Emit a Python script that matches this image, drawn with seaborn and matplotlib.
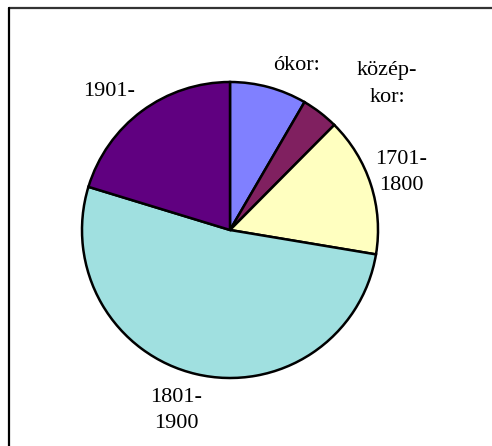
import matplotlib
matplotlib.use("Agg")
import matplotlib.pyplot as plt
from matplotlib.lines import Line2D
import seaborn as sns

# shares of the pie, clockwise from 12 o'clock
labels = ["ókor:", "közép-\nkor:", "1701-\n1800", "1801-\n1900", "1901-"]
shares = [8.4, 4.05, 15.2, 52.1, 20.3]
colors = ["#8080FF", "#802060", "#FFFFC0", "#A0E0E0", "#600080"]

sns.set_theme(style="white")
plt.rcParams["font.family"] = ["Liberation Serif", "DejaVu Serif"]

W, H = 492, 446
fig = plt.figure(figsize=(W / 100, H / 100), dpi=100)

# pie centre at (230, 230) px, radius 148 px
cx, cy, r = 230, 230, 148
ax = fig.add_axes([(cx - r) / W, (H - cy - r) / H, 2 * r / W, 2 * r / H])
ax.pie(shares, colors=colors, startangle=90, counterclock=False,
       wedgeprops=dict(edgecolor="black", linewidth=1.8))
ax.set_xlim(-1, 1)
ax.set_ylim(-1, 1)
ax.set_aspect("equal")
ax.axis("off")

# label positions in pixels (centre of text)
label_px = [(296, 65), (387, 84), (401, 172), (176, 411), (109, 91)]
for lab, (px, py) in zip(labels, label_px):
    ax.text((px - cx) / r, (cy - py) / r, lab, ha="center", va="center",
            fontsize=16, linespacing=1.5, color="black", clip_on=False)

# frame lines (top and left)
fig.add_artist(Line2D([9 / W, 1], [1 - 8 / H, 1 - 8 / H], color="#333333", linewidth=1.6))
fig.add_artist(Line2D([9 / W, 9 / W], [0, 1 - 8 / H], color="black", linewidth=1.6))

fig.savefig("out.png", dpi=100)
